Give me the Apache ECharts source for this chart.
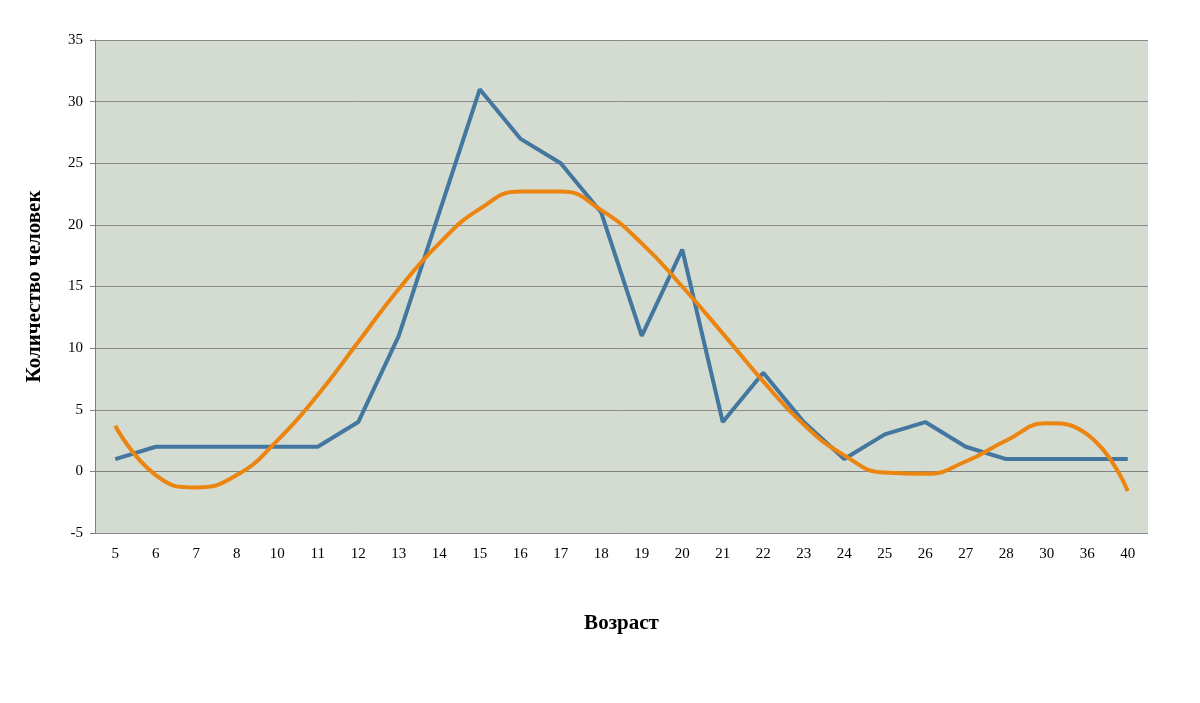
<!DOCTYPE html>
<html><head><meta charset="utf-8">
<script src="https://cdn.jsdelivr.net/npm/echarts@6/dist/echarts.min.js"></script>
<style>html,body{margin:0;padding:0;background:#fff}#c{width:1200px;height:703px}</style>
</head><body><div id="c"></div>
<script>
const categories = ['5','6','7','8','10','11','12','13','14','15','16','17','18','19','20','21','22','23','24','25','26','27','28','30','36','40'];
const counts = [1,2,2,2,2,2,4,11,21,31,27,25,21,11,18,4,8,4,1,3,4,2,1,1,1,1];
const trend = [3.7,-0.3,-1.3,-0.3,2.5,6.2,10.5,14.8,18.5,21.3,22.7,22.7,21.2,18.5,15,11.2,7.3,3.8,1.3,-0.1,-0.2,0.8,2.5,3.9,3.0,-1.6];
const yTicks = {min:-5, max:35, interval:5};
const font = '"Liberation Serif","Times New Roman",serif';
const chart = echarts.init(document.getElementById('c'));
chart.setOption({
  animation:false,
  grid:{left:95, right:52, top:40, bottom:170, show:true, backgroundColor:'#d4dbd1', borderWidth:0},
  xAxis:{type:'category', data:categories, boundaryGap:true,
    name:'Возраст', nameLocation:'middle', nameGap:80,
    nameTextStyle:{fontFamily:font, fontSize:21, fontWeight:'bold', color:'#000'},
    axisLine:{onZero:true, lineStyle:{color:'#808080'}}, axisTick:{show:false},
    axisLabel:{fontFamily:font, fontSize:15, color:'#000', margin:14}},
  yAxis:{type:'value', min:yTicks.min, max:yTicks.max, interval:yTicks.interval,
    name:'Количество человек', nameLocation:'middle', nameGap:50,
    nameTextStyle:{fontFamily:font, fontSize:21, fontWeight:'bold', color:'#000'},
    axisLine:{show:true, lineStyle:{color:'#808080'}}, axisTick:{show:true, length:5, lineStyle:{color:'#808080'}},
    axisLabel:{fontFamily:font, fontSize:15, color:'#000', margin:12},
    splitLine:{lineStyle:{color:'#8a8a8a', width:1}}},
  series:[
    {type:'line', data:counts, symbol:'none', lineStyle:{color:'#44779f', width:4}, itemStyle:{color:'#44779f'}},
    {type:'line', data:trend, symbol:'none', smooth:0.5, lineStyle:{color:'#ec850f', width:4}, itemStyle:{color:'#ec850f'}}
  ]
});
</script></body></html>
